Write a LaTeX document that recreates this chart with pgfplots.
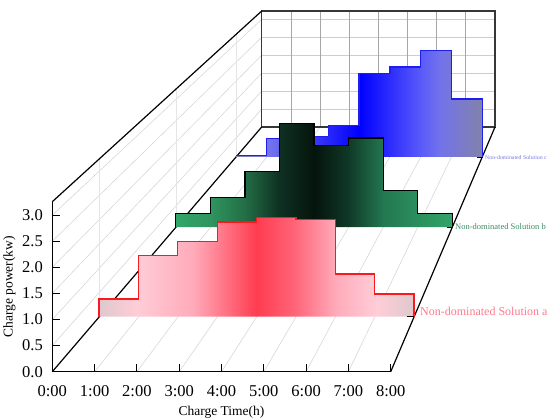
\documentclass[border=0pt]{standalone}
\usepackage{fontspec}
\setmainfont{Liberation Serif}
\usepackage{pgfplots}
\pgfplotsset{compat=1.18}
\definecolor{wallgrid}{RGB}{215,215,215}
\definecolor{backgrid}{RGB}{205,205,205}
\definecolor{backline}{RGB}{55,55,55}
\definecolor{labela}{RGB}{255,120,140}
\definecolor{labelb}{RGB}{60,140,100}
\definecolor{labelc}{RGB}{120,120,220}
% the middle 25bp--75bp of a shading is what is fitted to the path
\pgfdeclarehorizontalshading{redgrad}{100bp}{
 color(0bp)=(rgb,255:red,222;green,200;blue,205);
 color(25bp)=(rgb,255:red,222;green,200;blue,205);
 color(31bp)=(rgb,255:red,255;green,205;blue,215);
 color(40bp)=(rgb,255:red,255;green,170;blue,185);
 color(50bp)=(rgb,255:red,255;green,60;blue,80);
 color(56bp)=(rgb,255:red,255;green,100;blue,120);
 color(62.5bp)=(rgb,255:red,255;green,170;blue,185);
 color(69bp)=(rgb,255:red,255;green,205;blue,215);
 color(75bp)=(rgb,255:red,222;green,200;blue,205);
 color(100bp)=(rgb,255:red,222;green,200;blue,205)}
\pgfdeclarehorizontalshading{greengrad}{100bp}{
 color(0bp)=(rgb,255:red,50;green,165;blue,105);
 color(25bp)=(rgb,255:red,50;green,165;blue,105);
 color(31bp)=(rgb,255:red,48;green,150;blue,95);
 color(37.5bp)=(rgb,255:red,35;green,110;blue,70);
 color(43.5bp)=(rgb,255:red,15;green,50;blue,35);
 color(50bp)=(rgb,255:red,5;green,20;blue,12);
 color(56bp)=(rgb,255:red,15;green,55;blue,38);
 color(62.5bp)=(rgb,255:red,35;green,120;blue,80);
 color(75bp)=(rgb,255:red,50;green,165;blue,105);
 color(100bp)=(rgb,255:red,50;green,165;blue,105)}
\pgfdeclarehorizontalshading{bluegrad}{100bp}{
 color(0bp)=(rgb,255:red,130;green,130;blue,180);
 color(25bp)=(rgb,255:red,130;green,130;blue,180);
 color(31bp)=(rgb,255:red,120;green,120;blue,235);
 color(50bp)=(rgb,255:red,0;green,0;blue,255);
 color(62.5bp)=(rgb,255:red,90;green,90;blue,250);
 color(66.5bp)=(rgb,255:red,115;green,115;blue,235);
 color(75bp)=(rgb,255:red,130;green,130;blue,170);
 color(100bp)=(rgb,255:red,130;green,130;blue,170)}
\pgfplotsset{
 plane/.style={scale only axis,hide axis,xmin=0,xmax=8,ymin=0,ymax=3.25,clip=false,anchor=south west},
 canvas/.style={scale only axis,hide axis,at={(0pt,0pt)},anchor=south west,width=550pt,height=418pt,
   xmin=0,xmax=550,ymin=0,ymax=418,y dir=reverse,clip=false}
}
\begin{document}
\begin{tikzpicture}
\useasboundingbox (0pt,0pt) rectangle (550pt,418pt);
% room: walls and floor
\begin{axis}[canvas]
\addplot[wallgrid,line width=0.6pt,forget plot] coordinates {(52.3,345.6)(261.7,109.05)};
\addplot[wallgrid,line width=0.6pt,forget plot] coordinates {(52.3,319.5)(261.7,91.1)};
\addplot[wallgrid,line width=0.6pt,forget plot] coordinates {(52.3,293.4)(261.7,73.15)};
\addplot[wallgrid,line width=0.6pt,forget plot] coordinates {(52.3,267.3)(261.7,55.2)};
\addplot[wallgrid,line width=0.6pt,forget plot] coordinates {(52.3,241.2)(261.7,37.25)};
\addplot[wallgrid,line width=0.6pt,forget plot] coordinates {(52.3,215.1)(261.7,19.3)};
\addplot[black!10,line width=0.8pt,forget plot] coordinates {(99.3,316.7)(99.3,159)};
\addplot[black!10,line width=0.8pt,forget plot] coordinates {(176,227.2)(176,89.2)};
\addplot[black!10,line width=0.8pt,forget plot] coordinates {(236.4,157)(236.4,34.5)};
\addplot[wallgrid,line width=0.6pt,forget plot] coordinates {(94.6,371.7)(290.9,127)};
\addplot[wallgrid,line width=0.6pt,forget plot] coordinates {(136.9,371.7)(320,127)};
\addplot[wallgrid,line width=0.6pt,forget plot] coordinates {(179.2,371.7)(349.2,127)};
\addplot[wallgrid,line width=0.6pt,forget plot] coordinates {(221.5,371.7)(378.3,127)};
\addplot[wallgrid,line width=0.6pt,forget plot] coordinates {(263.8,371.7)(407.5,127)};
\addplot[wallgrid,line width=0.6pt,forget plot] coordinates {(306.1,371.7)(436.7,127)};
\addplot[wallgrid,line width=0.6pt,forget plot] coordinates {(348.4,371.7)(465.8,127)};
\addplot[backgrid,line width=1.1pt,forget plot] coordinates {(261.7,19.3)(495,19.3)};
\addplot[backgrid,line width=1.1pt,forget plot] coordinates {(261.7,37.3)(495,37.3)};
\addplot[backgrid,line width=1.1pt,forget plot] coordinates {(261.7,55.4)(495,55.4)};
\addplot[backgrid,line width=1.1pt,forget plot] coordinates {(261.7,73.5)(495,73.5)};
\addplot[backgrid,line width=1.1pt,forget plot] coordinates {(261.7,91.5)(495,91.5)};
\addplot[backgrid,line width=1.1pt,forget plot] coordinates {(261.7,109.3)(495,109.3)};
\addplot[black!35,line width=0.8pt,forget plot] coordinates {(290.9,11)(290.9,127)};
\addplot[black!35,line width=0.8pt,forget plot] coordinates {(320,11)(320,127)};
\addplot[black!35,line width=0.8pt,forget plot] coordinates {(349.2,11)(349.2,127)};
\addplot[black!35,line width=0.8pt,forget plot] coordinates {(378.3,11)(378.3,127)};
\addplot[black!35,line width=0.8pt,forget plot] coordinates {(407.5,11)(407.5,127)};
\addplot[black!35,line width=0.8pt,forget plot] coordinates {(436.7,11)(436.7,127)};
\addplot[black!35,line width=0.8pt,forget plot] coordinates {(465.8,11)(465.8,127)};
\addplot[backline,line width=1.2pt,forget plot] coordinates {(261.7,127)(261.7,11)(495,11)(495,127)(261.7,127)};
\addplot[black,line width=1.2pt,forget plot] coordinates {(52.3,371.7)(261.7,127)};
\addplot[black,line width=1.2pt,forget plot] coordinates {(52.3,201.7)(261.7,11)};
\addplot[black,line width=1.2pt,forget plot] coordinates {(390.7,371.7)(495,127)};
\end{axis}
% series c
\begin{axis}[plane,at={(236pt,261pt)},width=246.3pt,height=122.5pt]
\addplot[const plot,shade,shading=bluegrad,draw=none,forget plot] coordinates
 {(0,0)(0,0.035)(1,0.485)(2,0.55)(3,0.84)(4,2.21)(5,2.39)(6,2.82)(7,1.54)(8,1.54)(8,0)} --cycle;
\addplot[const plot,color={rgb,255:red,30;green,30;blue,240},line width=1.3pt,forget plot] coordinates
 {(0,0.035)(1,0.485)(2,0.55)(3,0.84)(4,2.21)(5,2.39)(6,2.82)(7,1.54)(8,1.54)(8,0)};
\end{axis}
% series b
\begin{axis}[plane,at={(175.8pt,190.8pt)},width=276.5pt,height=138pt]
\addplot[const plot,shade,shading=greengrad,draw=none,forget plot] coordinates
 {(0,0)(0,0.327)(1,0.694)(2,1.306)(3,2.45)(4,1.927)(5,2.1)(6,0.859)(7,0.327)(8,0.327)(8,0)} --cycle;
\addplot[const plot,color=black,line width=1.3pt,forget plot] coordinates
 {(0,0)(0,0.327)(1,0.694)(2,1.306)(3,2.45)(4,1.927)(5,2.1)(6,0.859)(7,0.327)(8,0.327)(8,0)};
\end{axis}
% series a
\begin{axis}[plane,at={(99.1pt,101.3pt)},width=315pt,height=157.7pt]
\addplot[const plot,shade,shading=redgrad,draw=none,forget plot] coordinates
 {(0,0)(0,0.365)(1,1.26)(2,1.55)(3,1.95)(4,2.04)(5,2.0)(6,0.88)(7,0.47)(8,0.47)(8,0)} --cycle;
\addplot[const plot,color={rgb,255:red,250;green,25;blue,30},line width=1.3pt,forget plot] coordinates
 {(0,0)(0,0.365)(1,1.26)(2,1.55)(3,1.95)(4,2.04)(5,2.0)(6,0.88)(7,0.47)(8,0.47)(8,0)};
\end{axis}
% front axis: tick labels and axis titles
\begin{axis}[scale only axis,at={(52.3pt,46.3pt)},anchor=south west,width=338.4pt,height=169.7pt,
  xmin=0,xmax=8,ymin=0,ymax=3.25,axis line style={draw=none},
  xtick pos=bottom,ytick pos=left,
  xtick={0,1,2,3,4,5,6,7,8},xticklabels={0:00,1:00,2:00,3:00,4:00,5:00,6:00,7:00,8:00},
  ytick={0,0.5,1,1.5,2,2.5,3},
  tick align=inside,major tick length=0pt,
  yticklabel style={/pgf/number format/fixed,/pgf/number format/fixed zerofill,/pgf/number format/precision=1,/pgf/number format/assume math mode=true,xshift=-6pt},
  ticklabel style={font=\fontsize{16.5}{16.5}\selectfont},
  xticklabel style={yshift=-10pt},
  xlabel={Charge Time(h)},ylabel={Charge power(kw)},
  label style={font=\fontsize{13.5}{13.5}\selectfont},
  xlabel style={at={(axis description cs:0.5,0)},anchor=center,yshift=-41pt},
  ylabel style={at={(axis description cs:0,0.5)},anchor=center,yshift=43pt},
  clip=false]
\end{axis}
% front axis lines, tick marks and series names
\begin{axis}[canvas]
\addplot[black,line width=1.2pt,forget plot] coordinates {(52.3,201.7)(52.3,371.7)(390.7,371.7)};
\addplot[black,line width=1pt,forget plot] coordinates {(52.3,345.6)(59.8,345.6)};
\addplot[black,line width=1pt,forget plot] coordinates {(52.3,319.5)(59.8,319.5)};
\addplot[black,line width=1pt,forget plot] coordinates {(52.3,293.4)(59.8,293.4)};
\addplot[black,line width=1pt,forget plot] coordinates {(52.3,267.3)(59.8,267.3)};
\addplot[black,line width=1pt,forget plot] coordinates {(52.3,241.2)(59.8,241.2)};
\addplot[black,line width=1pt,forget plot] coordinates {(52.3,215.1)(59.8,215.1)};
\addplot[black,line width=1pt,forget plot] coordinates {(94.6,371.7)(94.6,364.2)};
\addplot[black,line width=1pt,forget plot] coordinates {(136.9,371.7)(136.9,364.2)};
\addplot[black,line width=1pt,forget plot] coordinates {(179.2,371.7)(179.2,364.2)};
\addplot[black,line width=1pt,forget plot] coordinates {(221.5,371.7)(221.5,364.2)};
\addplot[black,line width=1pt,forget plot] coordinates {(263.8,371.7)(263.8,364.2)};
\addplot[black,line width=1pt,forget plot] coordinates {(306.1,371.7)(306.1,364.2)};
\addplot[black,line width=1pt,forget plot] coordinates {(348.4,371.7)(348.4,364.2)};
\addplot[black,line width=1pt,forget plot] coordinates {(390.7,371.7)(390.7,364.2)};
\addplot[black,line width=0.8pt,forget plot] coordinates {(407.3,316.7)(414,316.7)};
\addplot[black,line width=0.6pt,forget plot] coordinates {(446.7,227.2)(452.3,227.2)};
\addplot[black,line width=0.6pt,forget plot] coordinates {(477.3,157)(482.5,157)};
\node[anchor=west,inner sep=0pt,text=labela,font=\fontsize{12}{12}\selectfont] at (axis cs:420,311) {Non-dominated Solution a};
\node[anchor=west,inner sep=0pt,text=labelb,font=\fontsize{8.5}{8.5}\selectfont] at (axis cs:455,227) {Non-dominated Solution b};
\node[anchor=west,inner sep=0pt,text=labelc,font=\fontsize{5.8}{5.8}\selectfont] at (axis cs:485,158) {Non-dominated Solution c};
\end{axis}
\end{tikzpicture}
\end{document}
